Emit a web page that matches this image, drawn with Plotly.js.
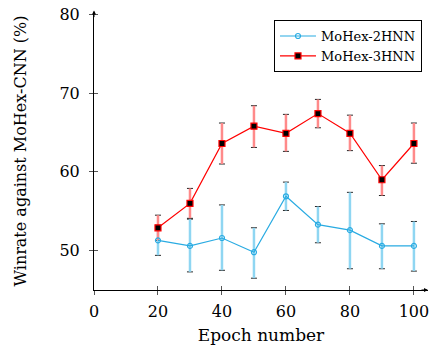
<!DOCTYPE html>
<html><head><meta charset="utf-8">
<script src="https://cdn.plot.ly/plotly-3.0.1.min.js"></script>
<style>body{margin:0;background:#fff}#c{width:429px;height:350px}</style>
</head><body><div id="c"></div>
<script>
const epochs = [20, 30, 40, 50, 60, 70, 80, 90, 100];
const hnn2 = [51.3, 50.6, 51.6, 49.8, 56.9, 53.3, 52.6, 50.6, 50.6];
const hnn2Plus = [1.9, 3.4, 4.2, 3.1, 1.8, 2.3, 4.8, 2.8, 3.1];
const hnn2Minus = [1.9, 3.3, 4.1, 3.3, 1.8, 2.3, 4.9, 2.9, 3.2];
const hnn3 = [52.9, 56.0, 63.6, 65.8, 64.9, 67.4, 64.9, 59.0, 63.6];
const hnn3Plus = [1.6, 1.9, 2.6, 2.6, 2.4, 1.8, 2.3, 1.8, 2.6];
const hnn3Minus = [1.6, 1.9, 2.6, 2.7, 2.3, 1.8, 2.2, 2.0, 2.5];
const xTicks = [0, 20, 40, 60, 80, 100];
const yTicks = [50, 60, 70, 80];

const fam = 'DejaVu Serif, Liberation Serif, serif';
const f = s => ({family: fam, size: s, color: '#000'});

function capTrace(y, plus, minus) {
  return {x: epochs, y: y, type: 'scatter', mode: 'none', showlegend: false, hoverinfo: 'skip',
    error_y: {type: 'data', symmetric: false, array: plus, arrayminus: minus, color: '#222', thickness: 1, width: 3}};
}
function barTrace(y, plus, minus, col) {
  return {x: epochs, y: y, type: 'scatter', mode: 'none', showlegend: false, hoverinfo: 'skip',
    error_y: {type: 'data', symmetric: false, array: plus, arrayminus: minus, color: col, thickness: 2.5, width: 0}};
}

const data = [
  {x: xTicks, y: yTicks.slice(0, 1), xaxis: 'x2', yaxis: 'y2', type: 'scatter', mode: 'none', showlegend: false, hoverinfo: 'skip'},
  capTrace(hnn2, hnn2Plus, hnn2Minus),
  capTrace(hnn3, hnn3Plus, hnn3Minus),
  barTrace(hnn2, hnn2Plus, hnn2Minus, '#8fd6f2'),
  barTrace(hnn3, hnn3Plus, hnn3Minus, '#ff8a8a'),
  {x: epochs, y: hnn2, type: 'scatter', mode: 'lines+markers', name: 'MoHex-2HNN',
   line: {color: '#29abe2', width: 1.2},
   marker: {symbol: 'circle-open', size: 5, color: '#29abe2', line: {width: 1.2, color: '#29abe2'}}},
  {x: epochs, y: hnn3, type: 'scatter', mode: 'lines+markers', name: 'MoHex-3HNN',
   line: {color: '#ff0000', width: 1.2},
   marker: {symbol: 'square', size: 6, color: '#000', line: {width: 1.2, color: '#ff0000'}}}
];

const xr = [0, 104.4], yr = [45, 80.3];
const layout = {
  width: 429, height: 350,
  margin: {l: 94, r: 1, t: 12, b: 60},
  paper_bgcolor: '#fff', plot_bgcolor: '#fff',
  showlegend: true,
  font: f(16),
  xaxis: {range: xr, tickvals: xTicks, ticktext: xTicks.map(String),
    showgrid: false, zeroline: false, showline: true, linecolor: '#000', linewidth: 1,
    ticks: 'outside', ticklen: 4, tickcolor: '#555', tickfont: f(16), ticklabelstandoff: 3,
    ticklabeloverflow: 'allow',
    title: {text: 'Epoch number', font: f(17), standoff: 8}},
  yaxis: {range: yr, tickvals: yTicks, ticktext: yTicks.map(String),
    showgrid: false, zeroline: false, showline: true, linecolor: '#000', linewidth: 1,
    ticks: 'outside', ticklen: 4, tickcolor: '#555', tickfont: f(16), ticklabelstandoff: 6,
    ticklabeloverflow: 'allow',
    title: {text: 'Winrate against MoHex-CNN (%)', font: f(16), standoff: 28}},
  xaxis2: {range: xr, overlaying: 'x', tickvals: xTicks, showticklabels: false, ticks: 'inside', ticklen: 4,
    tickcolor: '#555', showgrid: false, zeroline: false, showline: false},
  yaxis2: {range: yr, overlaying: 'y', tickvals: yTicks, showticklabels: false, ticks: 'inside', ticklen: 4,
    tickcolor: '#555', showgrid: false, zeroline: false, showline: false},
  legend: {x: 0.982, y: 0.971, xanchor: 'right', yanchor: 'top', bordercolor: '#000', borderwidth: 1,
    bgcolor: '#fff', font: f(13), tracegroupgap: 0, itemwidth: 36},
  annotations: [
    {xref: 'paper', yref: 'paper', x: 1, y: 0, ax: -8, ay: 0, showarrow: true, arrowhead: 2, arrowsize: 0.8, arrowwidth: 1, arrowcolor: '#000', text: ''},
    {xref: 'paper', yref: 'paper', x: 0, y: 1.005, ax: 0, ay: 8, showarrow: true, arrowhead: 2, arrowsize: 0.8, arrowwidth: 1, arrowcolor: '#000', text: ''}
  ]
};
Plotly.newPlot('c', data, layout, {displayModeBar: false, staticPlot: true});
</script></body></html>
